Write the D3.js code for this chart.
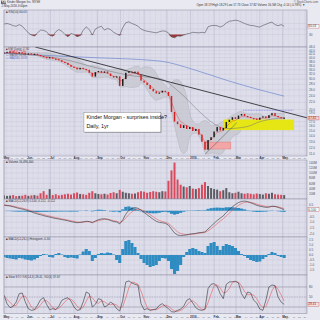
<!DOCTYPE html>
<html><head><meta charset="utf-8">
<script src="https://cdn.jsdelivr.net/npm/d3@7"></script>
<style>
html,body{margin:0;padding:0;background:#e9e9f2;}
svg{display:block;font-family:"Liberation Sans",Arial,sans-serif;}
</style></head><body>
<script>
var w = 320, h = 320;
var left = 4, right = 307;

// one bar every 4 calendar days from May 1 2015
var barStart = new Date(2015, 4, 1), barStep = 4;

var closes = [42.5,42.9,43.1,42.4,42.0,42.6,42.1,41.7,42.0,41.5,
  41.8,41.1,40.5,40.0,39.5,39.9,39.2,38.9,38.3,37.5,
  37.0,36.0,35.1,34.7,33.9,34.6,34.1,33.7,32.4,30.8,
  32.7,33.2,32.4,33.0,32.1,31.0,30.4,30.9,27.2,29.8,
  32.4,33.0,32.6,32.9,31.7,29.2,28.4,27.5,26.1,25.3,
  24.6,24.9,25.5,25.1,23.8,19.2,16.9,16.3,15.5,16.1,
  15.3,15.7,14.9,15.3,14.2,12.9,11.6,13.2,13.7,14.8,
  15.7,15.0,15.5,16.8,17.3,17.9,17.5,18.3,18.7,18.2,
  18.0,17.7,17.6,17.3,17.8,18.1,17.7,18.4,18.9,18.2,17.9,17.6,17.8];

var volumes = [14,12,13,15,11,12,13,16,12,14,
  15,13,22,30,16,38,15,18,14,16,
  18,20,17,22,25,19,18,16,24,30,
  22,19,18,20,17,23,26,22,35,28,
  24,22,20,21,26,30,28,24,27,30,
  28,26,30,29,70,110,140,75,55,48,
  45,50,40,38,42,55,65,50,42,38,
  36,30,34,42,26,22,24,28,22,20,
  22,20,18,21,19,17,22,20,24,18,17,16,15];

var rsi = [68,70,67,62,60,66,60,48,36,28,
  25,36,46,45,40,27,24,40,48,42,
  30,22,34,30,22,26,45,58,48,28,
  50,56,60,46,52,48,38,32,27,55,
  73,76,70,66,60,50,45,42,40,38,
  36,40,43,42,36,21,18,25,24,28,
  32,34,38,37,36,38,36,58,62,63,
  62,57,62,72,78,80,82,80,75,70,
  66,63,62,59,57,63,67,72,75,66,62,66,60];

var macd = [0.50,0.45,0.42,0.35,0.28,0.20,0.15,0.08,0.00,-0.10,
  -0.20,-0.28,-0.35,-0.42,-0.50,-0.55,-0.62,-0.68,-0.72,-0.78,
  -0.82,-0.88,-0.95,-1.00,-1.05,-1.02,-0.98,-0.92,-0.95,-1.05,
  -0.90,-0.78,-0.72,-0.70,-0.75,-0.85,-0.95,-0.98,-1.15,-0.80,
  -0.30,0.05,0.20,0.28,0.22,0.05,-0.15,-0.35,-0.55,-0.75,
  -0.92,-1.02,-1.05,-1.10,-1.25,-1.60,-1.95,-2.12,-2.18,-2.15,
  -2.12,-2.05,-2.02,-1.98,-1.92,-1.90,-1.85,-1.60,-1.35,-1.10,
  -0.85,-0.65,-0.45,-0.15,0.10,0.35,0.55,0.72,0.82,0.85,
  0.80,0.70,0.60,0.48,0.40,0.35,0.30,0.32,0.40,0.38,0.30,0.20,0.10];

var hist2 = [-0.2,-0.3,-0.35,-0.4,-0.45,-0.3,-0.35,-0.45,-0.5,-0.55,
  -0.45,-0.3,-0.1,0.1,0.05,-0.2,-0.25,0.1,0.2,0.05,
  -0.2,-0.3,-0.25,-0.3,-0.35,0.05,0.35,0.6,0.4,-0.6,
  -0.3,0.1,0.2,0.15,0.25,0.2,0.05,-0.5,-0.8,0.6,
  1.4,1.5,1.2,0.8,0.2,-0.4,-0.8,-1.0,-1.2,-1.1,
  -1.0,-0.6,-0.3,-0.35,-0.6,-1.4,-1.9,-1.6,-1.0,-0.2,
  0.3,0.6,0.7,0.6,0.4,0.3,0.2,0.9,1.2,1.3,
  0.9,0.5,0.9,1.1,1.0,0.9,0.7,0.4,0.1,-0.1,
  -0.3,-0.5,-0.6,-0.7,-0.65,-0.4,-0.2,0.1,0.3,0.2,-0.1,-0.2,-0.3];

var stochK = [55,30,18,22,35,60,62,35,15,10,
  12,25,42,48,28,12,15,12,22,40,
  45,48,38,20,10,12,35,65,60,20,
  28,45,42,20,25,35,28,15,8,40,
  95,98,92,88,85,30,12,15,10,12,
  14,25,30,22,15,6,5,10,14,22,
  40,45,32,18,12,10,14,75,88,90,
  82,60,45,88,95,96,97,92,60,45,
  65,62,40,32,14,10,40,80,86,84,50,35,28];

var ma200 = [["2015-05-01",42.3],["2015-08-22",40.1],["2015-11-22",38.2],["2016-01-04",34.2],
  ["2016-02-18",29.5],["2016-04-01",26.0],["2016-05-03",23.9]];
var ma50 = [["2015-05-01",42.5],["2015-07-14",39.5],["2015-09-04",34.5],["2015-10-14",31.5],
  ["2015-11-22",30.2],["2015-12-18",25.1],["2016-01-14",19.2],["2016-01-31",16.6],
  ["2016-02-18",15.5],["2016-03-15",15.9],["2016-04-01",17.0],["2016-05-03",17.9]];
var trendDown = [["2015-06-11",46.1],["2016-06-02",17.9]];
var trendUp = [["2016-01-20",11.0],["2016-03-02",16.8]];
var resist = [["2016-03-10",19.8],["2016-05-15",19.8]];
var yellowZone = ["2016-02-13","2016-05-16",15.2,17.5];
var pinkZone = ["2016-01-20","2016-02-23",11.8,12.95];
var noteBox = ["2015-08-14","2015-11-23",19.2,14.8];
var noteLines = ["Kinder Morgan - surprises inside?","Daily, 1yr"];

var monthNames = ["May","Jun","Jul","Aug","Sep","Oct","Nov","Dec","2016","Feb","Mar","Apr","May"];
var priceTicks = [46,44,42,40,38,36,34,32,30,28,26,24,22,20,19,18,17,16,15,14,13,12,11];
var volTicks = [20,40,60,80,100,120,140];
var macdTicks = [0.5,0,-0.5,-1,-1.5,-2];
var histTicks = [1.5,1,0.5,0,-0.5,-1,-1.5];
var rsiTicks = [70,50,30];
var stochTicks = [80,50,20];

var parse = d3.timeParse("%Y-%m-%d");
var barDates = closes.map(function(c,i){ return d3.timeDay.offset(barStart, barStep*i); });

var x = d3.scaleTime().domain([barStart, new Date(2016,5,2)]).range([left, right]);
var yR = d3.scaleLinear().domain([0,100]).range([42.75,15.25]);
var yP = d3.scaleLog().domain([10.75,46.1]).range([156,47]);
var yV = d3.scaleLinear().domain([0,150]).range([199,160]);
var yM = d3.scaleLinear().domain([-2.3,0.9]).range([237,200.5]);
var yH = d3.scaleLinear().domain([-1.9,1.7]).range([274,238]);
var yS = d3.scaleLinear().domain([0,100]).range([313.7,280.3]);

// derived series
var ema = [];
closes.forEach(function(c,i){ ema.push(i==0 ? c : ema[i-1] + 0.45*(c-ema[i-1])); });
var signal = [];
macd.forEach(function(m,i){ signal.push(i==0 ? m : signal[i-1] + 0.45*(m-signal[i-1])); });
var hist1 = macd.map(function(m,i){ return m - signal[i]; });
var stochD = stochK.map(function(k,i){ return d3.mean(stochK.slice(Math.max(0,i-2), i+1)); });
var bb = [];
closes.forEach(function(c,i){
  if (i < 6) return;
  var s = closes.slice(i-6, i+1), m = d3.mean(s), sd = d3.deviation(s);
  bb.push({i:i, up:m+2*sd, lo:Math.max(m-2*sd, 10)});
});

var svg = d3.select("body").append("svg").attr("width",w).attr("height",h);
svg.append("rect").attr("width",w).attr("height",h).attr("fill","#e9e9f2");

var weeks = d3.timeMonday.range(barStart, new Date(2016,5,2));
var months = d3.timeMonth.range(barStart, new Date(2016,5,2));

var clipN = 0;
// avoid: value of the last-value tag, so its tick label is not drawn under it
function panel(top, bottom, scale, ticks, fmt, label, avoid) {
  svg.append("rect").attr("x",left).attr("y",top).attr("width",right-left).attr("height",bottom-top)
    .attr("fill","#dedeeb");
  var g = svg.append("g");
  g.selectAll(".wk").data(weeks).join("line")
    .attr("x1",function(d){return x(d);}).attr("x2",function(d){return x(d);})
    .attr("y1",top).attr("y2",bottom).attr("stroke","#ccccdd").attr("stroke-width",0.35);
  g.selectAll(".mo").data(months).join("line")
    .attr("x1",function(d){return x(d);}).attr("x2",function(d){return x(d);})
    .attr("y1",top).attr("y2",bottom).attr("stroke","#b4b4c8").attr("stroke-width",0.5);
  g.selectAll(".hz").data(ticks).join("line")
    .attr("x1",left).attr("x2",right)
    .attr("y1",function(d){return scale(d);}).attr("y2",function(d){return scale(d);})
    .attr("stroke","#c2c2d4").attr("stroke-width",0.4);
  var shown = ticks.filter(function(d){ return avoid == null || Math.abs(scale(d) - scale(avoid)) > 3.4; });
  svg.selectAll(null).data(shown).join("text")
    .attr("x",right+2).attr("y",function(d){return scale(d)+1.1;})
    .attr("font-size",3.1).attr("fill","#505060").text(fmt);
  svg.append("text").attr("x",left+2).attr("y",top+3.2).attr("font-size",2.9).attr("fill","#303040").text(label);
  var id = "clip" + (clipN++);
  svg.append("clipPath").attr("id",id).append("rect")
    .attr("x",left).attr("y",top).attr("width",right-left).attr("height",bottom-top);
  return svg.append("g").attr("clip-path","url(#"+id+")");
}
function border(top, bottom) {
  svg.append("rect").attr("x",left).attr("y",top).attr("width",right-left).attr("height",bottom-top)
    .attr("fill","none").attr("stroke","#8a8aa0").attr("stroke-width",0.5);
}
function tag(yy, txt, bg, fg) {
  svg.append("rect").attr("x",right+1).attr("y",yy-1.8).attr("width",11).attr("height",3.6)
    .attr("fill",bg).attr("stroke","#a03030").attr("stroke-width",0.3);
  svg.append("text").attr("x",right+1.6).attr("y",yy+1.1).attr("font-size",3).attr("fill",fg).text(txt);
}

// header
svg.append("rect").attr("x",1).attr("y",0.6).attr("width",5).attr("height",3).attr("fill","#222");
svg.append("text").attr("x",1.4).attr("y",3).attr("font-size",2.8).attr("font-weight","bold").attr("fill","#fff").text("KMI");
svg.append("text").attr("x",7).attr("y",3).attr("font-size",2.9).attr("fill","#333").text("Kinder Morgan Inc.  NYSE");
svg.append("text").attr("x",1.5).attr("y",6.6).attr("font-size",2.9).attr("fill","#333").text("2-May-2016  4:00pm");
svg.append("text").attr("x",318).attr("y",2.8).attr("text-anchor","end").attr("font-size",2.8).attr("fill","#555").text("\u00a9 StockCharts.com");
svg.append("text").attr("x",305).attr("y",6.4).attr("text-anchor","end").attr("font-size",2.9).attr("fill","#333")
  .text("Open 18.19  High 18.29  Low 17.73  Close 17.82  Volume 16.5M  Chg -0.14 (-0.78%) \u25bc");

// RSI panel
var gR = panel(10, 47, yR, rsiTicks, function(d){return d;}, "\u25a0 RSI(14) 60.03", 60);
gR.append("path").datum(rsi)
  .attr("d", d3.area().x(function(d,i){return x(barDates[i]);}).y0(yR(30)).y1(function(d){return yR(Math.min(d,30));}))
  .attr("fill","#9a3838");
gR.append("path").datum(rsi)
  .attr("d", d3.line().x(function(d,i){return x(barDates[i]);}).y(function(d){return yR(d);}))
  .attr("fill","none").attr("stroke","#50505e").attr("stroke-width",0.6);
border(10, 47);
tag(yR(60), "60.03", "#fff", "#333");

// price panel
var gP = panel(47, 156, yP, priceTicks, function(d){return d.toFixed(1);}, "", 17.82);
gP.append("path").datum(bb)
  .attr("d", d3.area().x(function(d){return x(barDates[d.i]);}).y0(function(d){return yP(d.lo);}).y1(function(d){return yP(d.up);}).curve(d3.curveMonotoneX))
  .attr("fill","#c6c6cf").attr("fill-opacity",0.75).attr("stroke","#a8a8b2").attr("stroke-width",0.4);
gP.append("rect")
  .attr("x",x(parse(yellowZone[0]))).attr("width",x(parse(yellowZone[1]))-x(parse(yellowZone[0])))
  .attr("y",yP(yellowZone[3])).attr("height",yP(yellowZone[2])-yP(yellowZone[3]))
  .attr("fill","#e6e614");
gP.append("rect")
  .attr("x",x(parse(pinkZone[0]))).attr("width",x(parse(pinkZone[1]))-x(parse(pinkZone[0])))
  .attr("y",yP(pinkZone[3])).attr("height",yP(pinkZone[2])-yP(pinkZone[3]))
  .attr("fill","#f2a6a6").attr("stroke","#e07070").attr("stroke-width",0.4);
var pLine = d3.line().x(function(d){return x(parse(d[0]));}).y(function(d){return yP(d[1]);});
gP.append("path").datum(ma200).attr("d", pLine.curve(d3.curveMonotoneX)).attr("fill","none").attr("stroke","#5a78c8").attr("stroke-width",0.6);
gP.append("path").datum(ma50).attr("d", pLine.curve(d3.curveMonotoneX)).attr("fill","none").attr("stroke","#707078").attr("stroke-width",0.5);
pLine.curve(d3.curveLinear);
gP.append("path").datum(trendDown).attr("d", pLine).attr("fill","none").attr("stroke","#303034").attr("stroke-width",0.9);
gP.append("path").datum(trendUp).attr("d", pLine).attr("fill","none").attr("stroke","#404048").attr("stroke-width",0.45);
gP.append("path").datum(resist).attr("d", pLine).attr("fill","none").attr("stroke","#6a6ae8").attr("stroke-width",0.6).attr("stroke-dasharray","1,0.6");
gP.append("path").datum(ema)
  .attr("d", d3.line().x(function(d,i){return x(barDates[i]);}).y(function(d){return yP(d);}))
  .attr("fill","none").attr("stroke","#e04040").attr("stroke-width",0.45);
gP.selectAll(".cdl").data(closes).join("rect")
  .attr("x",function(d,i){return x(barDates[i])-0.75;}).attr("width",1.5)
  .attr("y",function(d,i){ var o = i ? closes[i-1] : d; return yP(Math.max(o,d)) - 0.6; })
  .attr("height",function(d,i){ var o = i ? closes[i-1] : d; return Math.max(1.2, Math.abs(yP(o)-yP(d))); })
  .attr("fill",function(d,i){ var o = i ? closes[i-1] : d; return d < o ? "#d42020" : "#1c1c1c"; });
// annotation box
var bx = x(parse(noteBox[0])), bx2 = x(parse(noteBox[1])), by = yP(noteBox[2]), by2 = yP(noteBox[3]);
gP.append("rect").attr("x",bx+0.8).attr("y",by+0.8).attr("width",bx2-bx).attr("height",by2-by).attr("fill","#a8a8b8");
gP.append("rect").attr("x",bx).attr("y",by).attr("width",bx2-bx).attr("height",by2-by)
  .attr("fill","#ffffff").attr("stroke","#777").attr("stroke-width",0.4);
gP.selectAll(".note").data(noteLines).join("text")
  .attr("x",bx+2.5).attr("y",function(d,i){return by+6.8+i*8.5;})
  .attr("font-size",5.4).attr("fill","#111").text(function(d){return d;});
// legend
var legend = [["\u25a0 KMI (Daily) 17.82","#303040"],["\u2014 EMA(8) 17.90","#d83030"],["\u2014 MA(50) 16.93","#505058"],["\u2014 MA(200) 23.92","#4a68c0"]];
svg.selectAll(".lg").data(legend).join("text")
  .attr("x",left+2).attr("y",function(d,i){return 50.2+i*3;})
  .attr("font-size",2.7).attr("fill",function(d){return d[1];}).text(function(d){return d[0];});
border(47, 156);
tag(yP(17.82), "17.82", "#f4d0d0", "#a01010");

// x labels
function xLabels(yy) {
  svg.selectAll(null).data(weeks).join("text")
    .attr("x",function(d){return x(d);}).attr("y",yy).attr("font-size",2.4).attr("fill","#7a7a8c")
    .attr("text-anchor","middle").text(function(d){return d.getDate() > 6 ? d.getDate() : "";});
  svg.selectAll(null).data(months).join("text")
    .attr("x",function(d){return x(d)-0.5;}).attr("y",yy).attr("font-size",3).attr("font-weight","bold")
    .attr("fill","#303040").text(function(d,i){return monthNames[i];});
}
xLabels(159);

// volume panel
var gV = panel(160, 199, yV, volTicks, function(d){return d+"M";}, "\u25a0 Volume 16,496,400");
gV.selectAll(".vb").data(volumes).join("rect")
  .attr("x",function(d,i){return x(barDates[i])-1;}).attr("width",2)
  .attr("y",function(d){return yV(d);}).attr("height",function(d){return yV(0)-yV(d);})
  .attr("fill",function(d,i){ return (i && closes[i] < closes[i-1]) ? "#d84a5c" : "#5c5c64"; });
border(160, 199);

// MACD panel
var gM = panel(199, 237, yM, macdTicks, function(d){return d.toFixed(1);}, "\u25a0 MACD(12,26,9) 0.100, 0.212, -0.112", 0.1);
gM.selectAll(".hb").data(hist1).join("rect")
  .attr("x",function(d,i){return x(barDates[i])-1.55;}).attr("width",3.1)
  .attr("y",function(d){return yM(Math.max(0,d));}).attr("height",function(d){return Math.abs(yM(d)-yM(0));})
  .attr("fill","#2e8cc2");
gM.append("path").datum(signal)
  .attr("d", d3.line().x(function(d,i){return x(barDates[i]);}).y(function(d){return yM(d);}))
  .attr("fill","none").attr("stroke","#e85a5a").attr("stroke-width",0.6);
gM.append("path").datum(macd)
  .attr("d", d3.line().x(function(d,i){return x(barDates[i]);}).y(function(d){return yM(d);}))
  .attr("fill","none").attr("stroke","#303038").attr("stroke-width",0.6);
border(199, 237);
tag(yM(0.1), "0.100", "#fff", "#333");

// second histogram panel
var gH = panel(237, 275, yH, histTicks, function(d){return d.toFixed(1);}, "\u25a0 MACD(12,26,1) Histogram -0.30");
gH.selectAll(".hb2").data(hist2).join("rect")
  .attr("x",function(d,i){return x(barDates[i])-1.55;}).attr("width",3.1)
  .attr("y",function(d){return yH(Math.max(0,d));}).attr("height",function(d){return Math.abs(yH(d)-yH(0));})
  .attr("fill","#2e8cc2");
border(237, 275);

// stochastic panel
var gS = panel(275, 313.7, yS, stochTicks, function(d){return d;}, "\u25a0 Slow STO %K(14,3) 28.41, %D(3) 37.67", 28);
gS.append("line").attr("x1",left).attr("x2",right).attr("y1",yS(50)).attr("y2",yS(50))
  .attr("stroke","#9090a4").attr("stroke-width",0.4).attr("stroke-dasharray","1.5,1");
[80,20].forEach(function(v){
  gS.append("line").attr("x1",left).attr("x2",right).attr("y1",yS(v)).attr("y2",yS(v)).attr("stroke","#8c8ca0").attr("stroke-width",0.5);
});
gS.append("path").datum(stochD)
  .attr("d", d3.line().x(function(d,i){return x(barDates[i]);}).y(function(d){return yS(d);}))
  .attr("fill","none").attr("stroke","#e85a5a").attr("stroke-width",0.6);
gS.append("path").datum(stochK)
  .attr("d", d3.line().x(function(d,i){return x(barDates[i]);}).y(function(d){return yS(d);}))
  .attr("fill","none").attr("stroke","#303038").attr("stroke-width",0.6);
border(275, 313.7);
tag(yS(28), "28.41", "#f8dede", "#a01010");
xLabels(318);
</script></body></html>
